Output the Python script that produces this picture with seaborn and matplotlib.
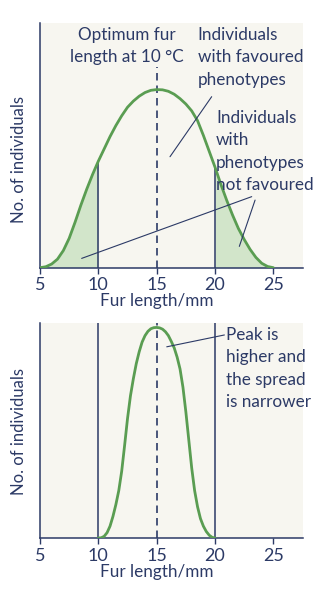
import matplotlib
matplotlib.use("Agg")
import matplotlib.pyplot as plt
import seaborn as sns
import numpy as np
import pandas as pd

# ---------------- data ----------------
fur_top = [5.0, 5.5, 6.0, 6.5, 7.0, 7.5, 8.0, 8.5, 9.0, 9.5, 10.0,
           10.5, 11.0, 11.5, 12.0, 12.5, 13.0, 13.5, 14.0, 14.5, 15.0,
           15.5, 16.0, 16.5, 17.0, 17.5, 18.0, 18.5, 19.0, 19.5, 20.0,
           20.5, 21.0, 21.5, 22.0, 22.5, 23.0, 23.5, 24.0, 24.5, 25.0]
count_top = [0.0, 0.4, 1.5, 3.5, 7.0, 12.0, 18.5, 25.5, 32.0, 38.0, 43.5,
             48.5, 53.5, 58.0, 62.0, 65.5, 68.0, 70.0, 71.5, 72.4, 72.7,
             72.6, 72.0, 70.8, 69.0, 66.8, 64.0, 60.0, 54.0, 47.5, 41.0,
             34.0, 27.5, 21.5, 16.0, 11.5, 7.5, 4.2, 1.8, 0.5, 0.0]

fur_bottom = [10.0, 10.25, 10.5, 10.75, 11.0, 11.25, 11.5, 11.75, 12.0, 12.25,
              12.5, 12.75, 13.0, 13.25, 13.5, 13.75, 14.0, 14.25, 14.5, 14.75,
              15.0, 15.25, 15.5, 15.75, 16.0, 16.25, 16.5, 16.75, 17.0, 17.25,
              17.5, 17.75, 18.0, 18.25, 18.5, 18.75, 19.0, 19.25, 19.5, 19.75, 20.0]
count_bottom = [0.0, 0.1, 0.8, 2.5, 5.5, 10.0, 15.5, 22.0, 31.0, 43.0,
                55.5, 66.0, 74.0, 81.0, 86.5, 91.0, 94.0, 96.0, 97.2, 97.7,
                97.8, 97.6, 97.0, 95.8, 94.0, 91.3, 88.3, 84.0, 78.5, 70.0,
                58.5, 45.5, 32.5, 22.0, 14.5, 9.0, 5.5, 3.0, 1.3, 0.3, 0.0]

x_ticks = [5, 10, 15, 20, 25]
favoured_range = [10, 20]
optimum = 15

label_optimum = "Optimum fur\nlength at 10 °C"
label_favoured = "Individuals\nwith favoured\nphenotypes"
label_not_favoured = "Individuals\nwith\nphenotypes\nnot favoured"
label_peak = "Peak is\nhigher and\nthe spread\nis narrower"
x_label = "Fur length/mm"
y_label = "No. of individuals"

# ---------------- style ----------------
sns.set_theme(style="white")
plt.rcParams['font.family'] = ['Lato', 'DejaVu Sans']

NAVY = "#2c3a66"
GREEN = "#5a9d52"
FILL = "#d2e5ca"
BG = "#f7f6f0"

df_top = pd.DataFrame({"fur": fur_top, "count": count_top})
df_bot = pd.DataFrame({"fur": fur_bottom, "count": count_bottom})

W, H = 329, 599
fig = plt.figure(figsize=(W / 100, H / 100), dpi=100)
fig.patch.set_facecolor("white")
ax1 = fig.add_axes([40 / W, (H - 267.7) / H, 263 / W, 245 / H])
ax2 = fig.add_axes([40 / W, (H - 538) / H, 263 / W, 215.3 / H])

xmax = 5 + 263 / 11.67
xlab_pos = (optimum - 5) / (xmax - 5)

# ---------------- top panel ----------------
xt = np.array(fur_top)
yt = np.array(count_top)
ax1.fill_between(xt, 0, yt, where=xt <= favoured_range[0], color=FILL, lw=0, zorder=1)
ax1.fill_between(xt, 0, yt, where=xt >= favoured_range[1], color=FILL, lw=0, zorder=1)
sns.lineplot(data=df_top, x="fur", y="count", ax=ax1, color=GREEN, lw=2.0, zorder=3)
for b in favoured_range:
    ax1.vlines(b, 0, yt[xt == b][0], color=NAVY, lw=1.1, zorder=2)
ax1.vlines(optimum, 0, 82, color=NAVY, lw=1.2, linestyles=(0, (4.5, 3)), zorder=2)

txt = dict(color=NAVY, fontsize=12.3, linespacing=1.5, va="center")
ax1.text(12.45, 90.5, label_optimum, ha="center", **txt)
ax1.text(18.5, 85.8, label_favoured, ha="left", **txt)
ax1.text(20.1, 47.4, label_not_favoured, ha="left", **txt)
ax1.plot([19.71, 16.14], [69.8, 45.3], color=NAVY, lw=0.8, zorder=4)
ax1.plot([8.57, 23.14], [3.8, 29.0], color=NAVY, lw=0.8, zorder=4)
ax1.plot([23.43, 22.08], [27.6, 8.7], color=NAVY, lw=0.8, zorder=4)

# ---------------- bottom panel ----------------
sns.lineplot(data=df_bot, x="fur", y="count", ax=ax2, color=GREEN, lw=2.0, zorder=3)
for b in favoured_range:
    ax2.axvline(b, 0, 1, color=NAVY, lw=1.1, zorder=2)
ax2.axvline(optimum, 0, 1, color=NAVY, lw=1.2, linestyle=(0, (4.5, 3)), zorder=2)
ax2.text(20.95, 78.7, label_peak, ha="left", **txt)
ax2.plot([20.8, 15.86], [94.3, 88.8], color=NAVY, lw=0.8, zorder=4)

# ---------------- shared axis styling ----------------
for ax in (ax1, ax2):
    ax.set_facecolor(BG)
    ax.set_xlim(5, xmax)
    ax.set_ylim(0, 100)
    for s in ("top", "right"):
        ax.spines[s].set_visible(False)
    for s in ("left", "bottom"):
        ax.spines[s].set_color(NAVY)
        ax.spines[s].set_linewidth(1.1)
    ax.set_xticks(x_ticks)
    ax.set_xticklabels([str(t) for t in x_ticks])
    ax.set_yticks([])
    ax.tick_params(axis="x", direction="out", length=4, width=1, color=NAVY,
                   labelsize=13, labelcolor=NAVY, pad=3, bottom=True)
    ax.set_xlabel(x_label, fontsize=12.3, color=NAVY, labelpad=0, x=xlab_pos)
    ax.set_ylabel(y_label, fontsize=12, color=NAVY)

ax1.yaxis.set_label_coords(-0.05, 0.44)
ax2.yaxis.set_label_coords(-0.05, 0.494)

fig.savefig("out.png", dpi=100, facecolor="white")
